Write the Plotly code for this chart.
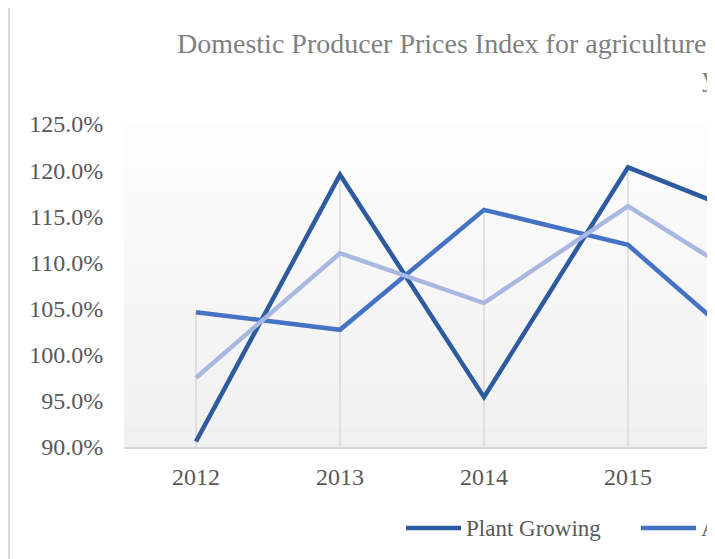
import plotly.graph_objects as go

# data (index, previous year = 100%)
years = ["2012", "2013", "2014", "2015", "2016"]
plant_growing = [0.906, 1.195, 0.954, 1.203, 1.141]
animal_husbandry = [1.046, 1.027, 1.157, 1.119, 0.983]
agriculture_total = [0.975, 1.110, 1.056, 1.161, 1.063]

names = ["Plant Growing", "Animal Husbandry", "Agriculture, total"]
colors = ["#2E5A9E", "#4472C4", "#A9B8E0"]

Y_MIN, Y_MAX = 0.90, 1.25

# the page body has an 8px margin, so the figure starts at (8, 8) in the window
OFF = 8
W, H = 715 - OFF, 559 - OFF
L, R, T = 124 - OFF, 0, 124 - OFF
B = H - (447 - OFF)
PW, PH = W - L - R, H - T - B
CAT = 144.0  # pixels per category


def px_x(p):
    # page pixel -> paper x
    return (p - OFF - L) / PW


def px_y(p):
    # page pixel -> paper y
    return (H - B - (p - OFF)) / PH


series = [plant_growing, animal_husbandry, agriculture_total]

fig = go.Figure()

# drop lines: from the highest series value down to the category axis
drop_x, drop_y = [], []
for i, yr in enumerate(years):
    drop_x += [yr, yr, None]
    drop_y += [Y_MIN, max(s[i] for s in series), None]
fig.add_trace(go.Scatter(
    x=drop_x, y=drop_y, mode="lines",
    line=dict(color="#D9D9D9", width=1.5),
    hoverinfo="skip", showlegend=False,
))

for vals, name, col in zip(series, names, colors):
    fig.add_trace(go.Scatter(
        x=years,
        y=vals,
        name=name,
        mode="lines",
        line=dict(color=col, width=4.5),
        showlegend=False,
    ))

# plot area gradient (white top -> light grey bottom)
shapes = []
n = 30
for i in range(n):
    t = i / (n - 1)
    c = int(round(253 - (253 - 240) * t))
    shapes.append(dict(
        type="rect", xref="paper", yref="paper",
        x0=0, x1=1, y0=1 - (i + 1) / n, y1=1 - i / n,
        fillcolor=f"rgb({c},{c},{c})", line=dict(width=0), layer="below",
    ))

# chart border (cut off at the right and bottom)
shapes.append(dict(
    type="rect", xref="paper", yref="paper",
    x0=px_x(9), x1=px_x(760), y0=px_y(610), y1=px_y(6),
    line=dict(color="#D9D9D9", width=2), fillcolor="rgba(0,0,0,0)", layer="below",
))

# legend drawn by hand so the sample lines have Excel's length
leg_y = px_y(528)
leg_x = [406, 641, 876]
annotations = []
for x0, name, col in zip(leg_x, names, colors):
    shapes.append(dict(
        type="line", xref="paper", yref="paper",
        x0=px_x(x0), x1=px_x(x0 + 55), y0=leg_y, y1=leg_y,
        line=dict(color=col, width=4.5),
    ))
    annotations.append(dict(
        xref="paper", yref="paper", x=px_x(x0 + 58), y=leg_y,
        xanchor="left", yanchor="middle", showarrow=False, text=name,
        font=dict(family="Liberation Serif", size=23, color="#595959"),
    ))

# title (cut off on the right in the reference)
title_font = dict(family="Liberation Serif", size=28, color="#808080")
annotations.append(dict(
    xref="paper", yref="paper", x=px_x(175), y=px_y(43),
    xanchor="left", yanchor="middle", showarrow=False,
    text="Domestic Producer Prices Index for agriculture products, % to previous",
    font=title_font,
))
annotations.append(dict(
    xref="paper", yref="paper", x=px_x(700), y=px_y(76),
    xanchor="left", yanchor="middle", showarrow=False,
    text="year",
    font=title_font,
))

fig.update_xaxes(
    type="category",
    range=[-0.5, -0.5 + PW / CAT],
    showgrid=False,
    showline=True, linecolor="#D9D9D9", linewidth=1.5,
    ticks="outside", ticklen=7, tickcolor="rgba(0,0,0,0)",
    tickfont=dict(family="Liberation Serif", size=24, color="#595959"),
    zeroline=False, fixedrange=True,
)
fig.update_yaxes(
    range=[Y_MIN, Y_MAX], dtick=0.05, tickformat=".1%",
    showgrid=False, showline=False, zeroline=False,
    ticks="outside", ticklen=15, tickcolor="rgba(0,0,0,0)",
    tickfont=dict(family="Liberation Serif", size=24, color="#595959"),
    fixedrange=True,
)

fig.update_layout(
    width=W, height=H,
    margin=dict(l=L, r=R, t=T, b=B),
    paper_bgcolor="white",
    plot_bgcolor="rgba(0,0,0,0)",
    shapes=shapes,
    annotations=annotations,
    showlegend=False,
)

fig.write_html("out.html")
